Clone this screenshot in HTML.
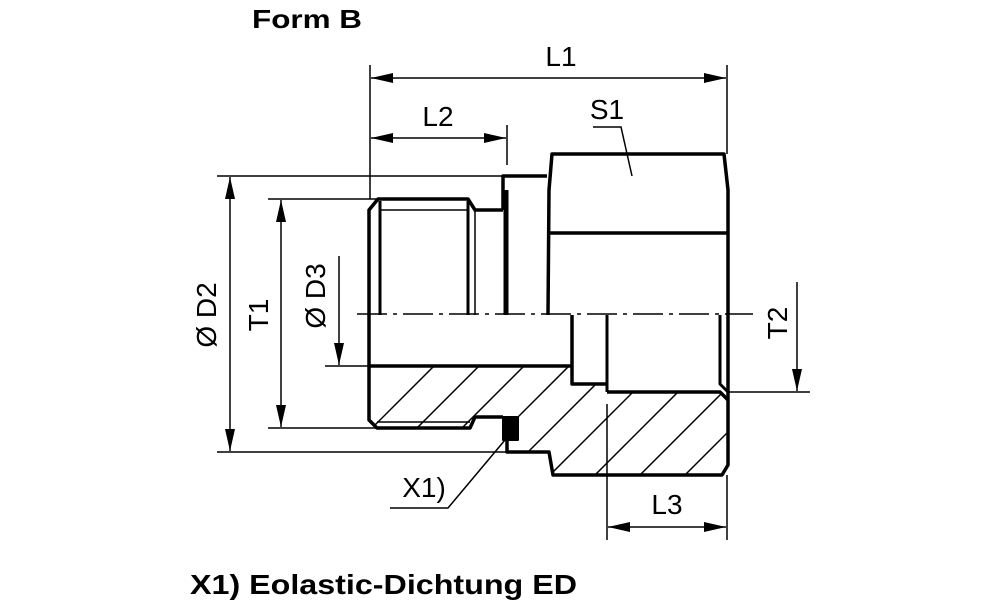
<!DOCTYPE html>
<html><head><meta charset="utf-8"><style>html,body{margin:0;padding:0;background:#fff}svg{display:block}</style></head>
<body>
<svg width="1000" height="611" viewBox="0 0 1000 611" xmlns="http://www.w3.org/2000/svg" font-family="Liberation Sans, Arial, sans-serif">
<defs>
<marker id="a" viewBox="0 0 22 10" refX="22" refY="5" markerWidth="22" markerHeight="10" markerUnits="userSpaceOnUse" orient="auto-start-reverse"><path d="M0,0 L22,5 L0,10 z" fill="#000"/></marker>
<clipPath id="hc"><path d="M369,366 L572,366 L572,384 L607,384 L607,392 L720,392 L728,400 L728,465 L722,475 L553,475 L549,452 L507,452 L507,440 L518,440 L518,417 L475,417 L470,428 L377,428 L369,420 Z"/></clipPath>
</defs>
<text x="252" y="28" font-size="26" font-weight="bold" textLength="110" lengthAdjust="spacingAndGlyphs">Form B</text>
<text x="190" y="594" font-size="28" font-weight="bold" textLength="387" lengthAdjust="spacingAndGlyphs">X1) Eolastic-Dichtung ED</text>

<g clip-path="url(#hc)" stroke="#000" stroke-width="1.5">
<line x1="300" y1="500" x2="500" y2="300"/><line x1="345" y1="500" x2="545" y2="300"/><line x1="390" y1="500" x2="590" y2="300"/><line x1="435" y1="500" x2="635" y2="300"/><line x1="480" y1="500" x2="680" y2="300"/><line x1="525" y1="500" x2="725" y2="300"/><line x1="570" y1="500" x2="770" y2="300"/><line x1="615" y1="500" x2="815" y2="300"/><line x1="660" y1="500" x2="860" y2="300"/><line x1="705" y1="500" x2="905" y2="300"/><line x1="750" y1="500" x2="950" y2="300"/>
</g>

<g fill="none" stroke="#000" stroke-width="3.5" stroke-linejoin="round">
<path d="M369,315 L369,210 L378,199 L468,199 L475,210 L503,210"/>
<line x1="380" y1="201" x2="380" y2="315" stroke-width="3"/>
<line x1="468" y1="201" x2="468" y2="315" stroke-width="3"/>
<line x1="475" y1="210" x2="475" y2="315" stroke-width="1.5"/>
<path d="M369,315 L369,420 L377,428 L470,428 L475,417 L503,417"/>
<line x1="380" y1="210" x2="468" y2="210" stroke-width="1.5"/>
<line x1="377" y1="422" x2="470" y2="422" stroke-width="1.5"/>
<path d="M503,210 L503,176 L547,176"/>
<line x1="506" y1="190" x2="506" y2="315" stroke-width="5"/>
<path d="M548,315 L549,190 L552,154 L724,154 L728,190 L728,465 L722,475 L553,475 L549,452 L507,452 L507,440"/>
<line x1="550" y1="233" x2="727" y2="233"/>
<path d="M369,366 L572,366 L572,315"/>
<path d="M572,366 L572,384 L607,384"/>
<line x1="607" y1="315" x2="607" y2="392" stroke-width="3"/>
<path d="M607,392 L720,392 L728,400"/>
<path d="M720,315 L720,384 L728,392" stroke-width="3"/>
<path d="M503,417 L518,417 L518,440 L503,440 Z" fill="#000" stroke-width="2"/>
</g>

<line x1="357" y1="314" x2="753" y2="314" stroke="#000" stroke-width="1.5" stroke-dasharray="30,6,4,6"/>

<g stroke="#000" stroke-width="1.5" fill="none">
<line x1="217" y1="176" x2="503" y2="176"/>
<line x1="217" y1="452" x2="507" y2="452"/>
<line x1="268" y1="199" x2="378" y2="199"/>
<line x1="268" y1="428" x2="470" y2="428"/>
<line x1="325" y1="366" x2="369" y2="366"/>
<line x1="728" y1="392" x2="810" y2="392"/>
<line x1="370" y1="65" x2="370" y2="199"/>
<line x1="727" y1="65" x2="727" y2="154"/>
<line x1="507" y1="125" x2="507" y2="165"/>
<line x1="607" y1="404" x2="607" y2="540"/>
<line x1="727" y1="475" x2="727" y2="540"/>
<line x1="371" y1="78" x2="726" y2="78" marker-start="url(#a)" marker-end="url(#a)"/>
<line x1="371" y1="138" x2="506" y2="138" marker-start="url(#a)" marker-end="url(#a)"/>
<line x1="608" y1="527" x2="726" y2="527" marker-start="url(#a)" marker-end="url(#a)"/>
<line x1="230" y1="177" x2="230" y2="451" marker-start="url(#a)" marker-end="url(#a)"/>
<line x1="281" y1="200" x2="281" y2="427" marker-start="url(#a)" marker-end="url(#a)"/>
<line x1="339" y1="256" x2="339" y2="365" marker-end="url(#a)"/>
<line x1="797" y1="282" x2="797" y2="391" marker-end="url(#a)"/>
<path d="M593,127 L621,127 L632,176"/>
<path d="M390,508 L448,508 L505,440"/>
</g>

<g font-size="28" text-anchor="middle">
<text x="561" y="66">L1</text>
<text x="438" y="126">L2</text>
<text x="607" y="119">S1</text>
<text x="667" y="514">L3</text>
<text x="424" y="497">X1)</text>
<text transform="translate(216,315) rotate(-90)">Ø D2</text>
<text transform="translate(268,315) rotate(-90)">T1</text>
<text transform="translate(325,296) rotate(-90)">Ø D3</text>
<text transform="translate(787,323) rotate(-90)">T2</text>
</g>
</svg>
</body></html>
